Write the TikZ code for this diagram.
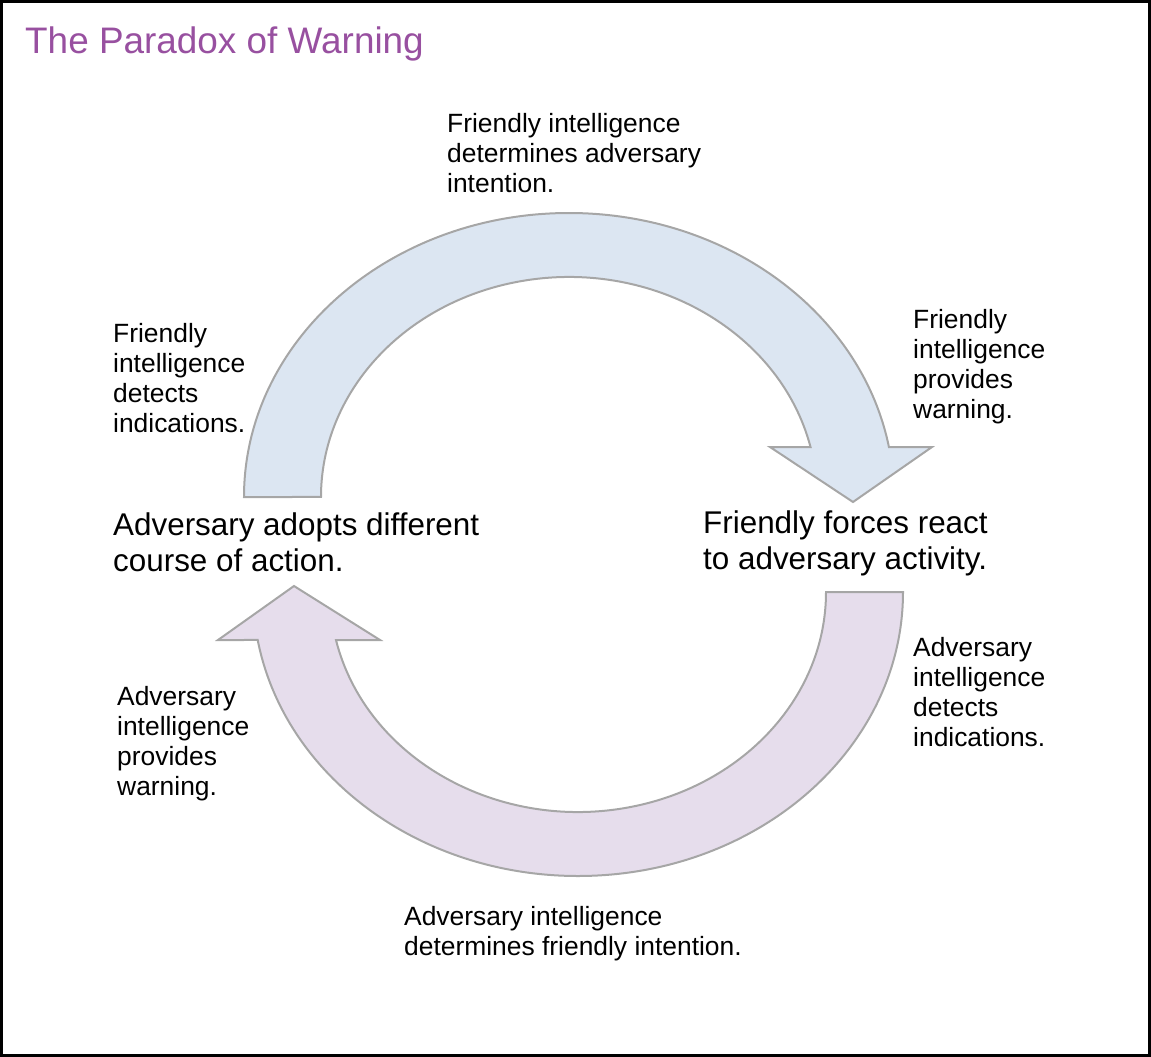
\documentclass[tikz,border=0pt]{standalone}
\usepackage{fontspec}
\setmainfont{Liberation Sans}
\usetikzlibrary{positioning}

\definecolor{titlepurple}{RGB}{152,80,160}
\definecolor{bluefill}{RGB}{220,230,242}
\definecolor{purplefill}{RGB}{230,221,236}
\definecolor{bandgray}{RGB}{166,166,166}

\begin{document}
\begin{tikzpicture}[
			x=1pt, y=1pt,
			txt/.style = {anchor=base west, align=left, inner sep=0pt, font=\fontsize{26.4}{30}\selectfont},
			big/.style = {txt, font=\fontsize{31.4}{36}\selectfont},
			band/.style = {draw=bandgray, line width=2pt, line join=miter}
		]
		\useasboundingbox (0,0) rectangle (1151,-1057);
		\draw[line width=3pt] (1.5,-1.5) rectangle (1149.5,-1055.5);
		\node[anchor=base west, inner sep=0pt, text=titlepurple, font=\fontsize{36.9}{40}\selectfont] (title) at (25,-54) {The Paradox of Warning};
		% Upper arrow.
		\filldraw[band, fill=bluefill] (244,-497)
			arc[start angle=180, end angle={asin(50/284)}, x radius=325, y radius=284]
			-- (932,-447) -- (853,-502) -- (770,-447)
			-- ({569+248*cos(asin(50/220))},-447)
			arc[start angle={asin(50/220)}, end angle=180, x radius=248, y radius=220]
			-- cycle;
		% Lower arrow.
		\filldraw[band, fill=purplefill] (903,-592)
			arc[start angle=0, end angle={-180+asin(48/284)}, x radius=325, y radius=284]
			-- (218,-640) -- (294,-586) -- (380,-640)
			-- ({578-248*cos(asin(48/220))},-640)
			arc[start angle={-180+asin(48/220)}, end angle=0, x radius=248, y radius=220]
			-- cycle;
		% Friendly side (anchored at the last line).
		\node[txt] (fdai) at (447,-192) {Friendly intelligence\\determines adversary\\intention.};
		\node[txt] (fipw) at (913,-418) {Friendly\\intelligence\\provides\\warning.};
		\node[txt] (fidi) at (113,-432) {Friendly\\intelligence\\detects\\indications.};
		\node[big] (ffra) at (703,-569) {Friendly forces react\\to adversary activity.};
		% Adversary side.
		\node[big] (adca) at (113,-571) {Adversary adopts different\\course of action.};
		\node[txt] (aidi) at (913,-746) {Adversary\\intelligence\\detects\\indications.};
		\node[txt] (aipw) at (117,-795) {Adversary\\intelligence\\provides\\warning.};
		\node[txt] (aidf) at (404,-955) {Adversary intelligence\\determines friendly intention.};
	\end{tikzpicture}
\end{document}
